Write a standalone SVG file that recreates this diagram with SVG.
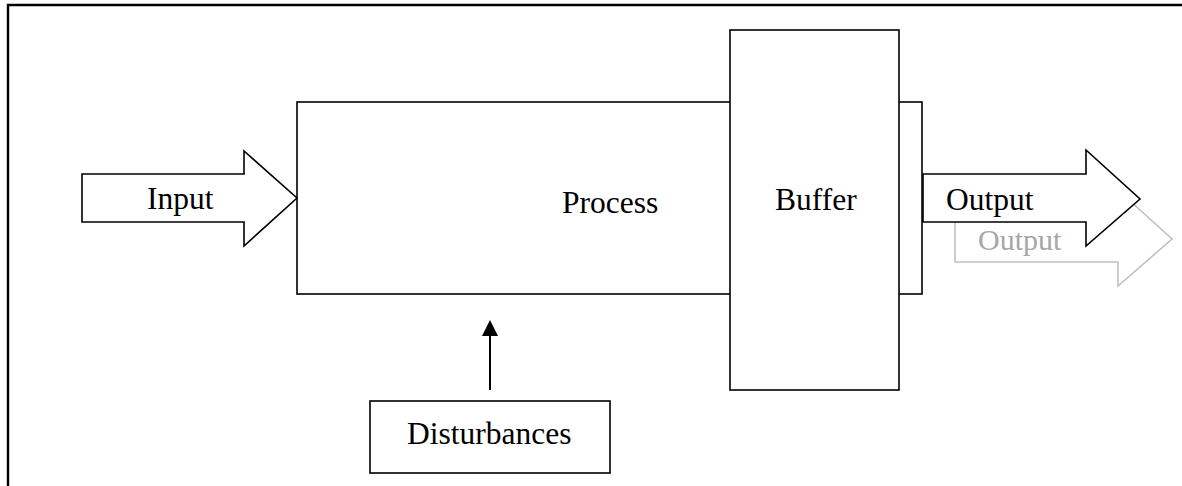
<svg xmlns="http://www.w3.org/2000/svg" width="1182" height="486" viewBox="0 0 1182 486">
  <defs>
    <style>
      .box { fill: #ffffff; stroke: #000000; stroke-width: 1.6; }
      .label { font-family: "Liberation Serif", "Times New Roman", serif; font-size: 31.5px; fill: #000000; }
      .ghost { fill: #ffffff; stroke: #c0c0c0; stroke-width: 1.6; }
      .ghost-label { font-family: "Liberation Serif", "Times New Roman", serif; font-size: 30px; fill: #a6a6a6; }
      .wire { stroke: #000000; stroke-width: 2; fill: none; }
    </style>
    <marker id="arrowhead" markerWidth="8" markerHeight="8" refX="7" refY="4" orient="auto" markerUnits="strokeWidth">
      <path d="M0,0 L8,4 L0,8 Z" fill="#000000"/>
    </marker>
  </defs>

  <rect width="1182" height="486" fill="#ffffff"/>

  <!-- page frame -->
  <path d="M8,486 L8,5 L1182,5" fill="none" stroke="#000000" stroke-width="2.4"/>

  <!-- process block (extends under the buffer) -->
  <g id="process">
    <rect class="box" x="297" y="102" width="625" height="192"/>
    <text class="label" x="562" y="213">Process</text>
  </g>

  <!-- buffer block -->
  <g id="buffer">
    <rect class="box" x="730" y="30" width="169" height="360"/>
    <text class="label" x="775" y="210">Buffer</text>
  </g>

  <!-- input block arrow -->
  <g id="input">
    <polygon class="box" points="82,174 244,174 244,151 297,198 244,246 244,222 82,222"/>
    <text class="label" x="147" y="209">Input</text>
  </g>

  <!-- greyed-out duplicate output arrow -->
  <g id="output-ghost">
    <polygon class="ghost" points="955,214 1118,214 1118,190 1172,239 1118,286 1118,262 955,262"/>
    <text class="ghost-label" x="978" y="250">Output</text>
  </g>

  <!-- output block arrow -->
  <g id="output">
    <polygon class="box" points="923,174 1086,174 1086,150 1140,199 1086,246 1086,222 923,222"/>
    <text class="label" x="946" y="210">Output</text>
  </g>

  <!-- disturbances block -->
  <g id="disturbances">
    <rect class="box" x="370" y="401" width="240" height="72"/>
    <text class="label" x="407" y="444">Disturbances</text>
  </g>

  <!-- connectors -->
  <g id="connectors">
    <line class="wire" x1="490" y1="390" x2="490" y2="322" marker-end="url(#arrowhead)"/>
  </g>
</svg>
